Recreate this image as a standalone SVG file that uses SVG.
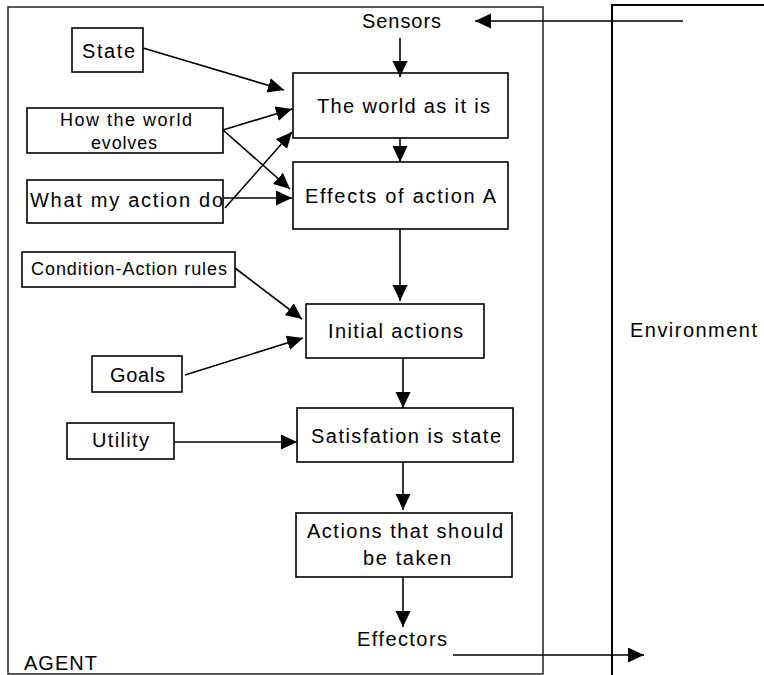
<svg xmlns="http://www.w3.org/2000/svg" width="764" height="675" viewBox="0 0 764 675">
<style>
  .box{fill:#fff;stroke:#000;stroke-width:1.6}
  .frame{fill:none;stroke:#222;stroke-width:1.5}
  .env{fill:none;stroke:#000;stroke-width:2}
  text{font-family:"Liberation Sans",Arial,sans-serif;font-size:20px;fill:#000}
  .sm{font-size:18px}
  .c line{stroke:#000;stroke-width:1.6;marker-end:url(#ah)}
</style>
<defs>
  <marker id="ah" markerUnits="userSpaceOnUse" markerWidth="18" markerHeight="16" refX="16" refY="7.5" orient="auto">
    <path d="M0,0 L16,7.5 L0,15 z" fill="#000"/>
  </marker>
</defs>
<rect width="764" height="675" fill="#fff"/>
<g id="agent">
  <rect class="frame" x="8" y="7" width="535" height="667"/>
  <text x="24" y="670" textLength="73" lengthAdjust="spacing">AGENT</text>
</g>
<g id="environment">
  <path class="env" d="M612,675 V5 H764"/>
  <text x="630" y="337" textLength="127" lengthAdjust="spacing">Environment</text>
</g>
<g id="sensors"><text x="362" y="28" textLength="79" lengthAdjust="spacing">Sensors</text></g>
<g id="effectors"><text x="357" y="646" textLength="90" lengthAdjust="spacing">Effectors</text></g>
<g id="state">
  <rect class="box" x="72" y="28" width="71" height="44"/>
  <text x="82" y="58" textLength="53" lengthAdjust="spacing">State</text>
</g>
<g id="how">
  <rect class="box" x="27" y="108" width="196" height="45"/>
  <text class="sm" x="60" y="126" textLength="132" lengthAdjust="spacing">How the world</text>
  <text class="sm" x="91" y="149" textLength="66" lengthAdjust="spacing">evolves</text>
</g>
<g id="what">
  <rect class="box" x="27" y="180" width="196" height="43"/>
  <text x="30" y="207" textLength="193" lengthAdjust="spacing">What my action do</text>
</g>
<g id="world">
  <rect class="box" x="293" y="73" width="215" height="65"/>
  <text x="317" y="113" textLength="173" lengthAdjust="spacing">The world as it is</text>
</g>
<g id="effects">
  <rect class="box" x="293" y="162" width="215" height="67"/>
  <text x="305" y="203" textLength="191" lengthAdjust="spacing">Effects of action A</text>
</g>
<g id="rules">
  <rect class="box" x="22" y="252" width="213" height="35"/>
  <text class="sm" x="31" y="275" textLength="196" lengthAdjust="spacing">Condition-Action rules</text>
</g>
<g id="initial">
  <rect class="box" x="306" y="304" width="178" height="54"/>
  <text x="328" y="338" textLength="135" lengthAdjust="spacing">Initial actions</text>
</g>
<g id="goals">
  <rect class="box" x="92" y="356" width="90" height="36"/>
  <text x="110" y="382" textLength="55" lengthAdjust="spacing">Goals</text>
</g>
<g id="utility">
  <rect class="box" x="67" y="423" width="107" height="36"/>
  <text x="92" y="447" textLength="57" lengthAdjust="spacing">Utility</text>
</g>
<g id="satisfaction">
  <rect class="box" x="297" y="408" width="216" height="54"/>
  <text x="311" y="443" textLength="190" lengthAdjust="spacing">Satisfation is state</text>
</g>
<g id="actions">
  <rect class="box" x="296" y="513" width="216" height="64"/>
  <text x="307" y="538" textLength="196" lengthAdjust="spacing">Actions that should</text>
  <text x="363" y="565" textLength="88" lengthAdjust="spacing">be taken</text>
</g>
<g id="connectors" class="c">
  <line x1="683" y1="21" x2="475" y2="21"/>
  <line x1="400" y1="38" x2="400" y2="77"/>
  <line x1="400" y1="138" x2="400" y2="162"/>
  <line x1="400" y1="229" x2="400" y2="301"/>
  <line x1="403" y1="358" x2="403" y2="408"/>
  <line x1="403" y1="462" x2="403" y2="510"/>
  <line x1="403" y1="577" x2="403" y2="627"/>
  <line x1="453" y1="655" x2="644" y2="655"/>
  <line x1="143" y1="48" x2="284" y2="90"/>
  <line x1="223" y1="130" x2="292" y2="109"/>
  <line x1="223" y1="130" x2="290" y2="189"/>
  <line x1="225" y1="208" x2="292" y2="132"/>
  <line x1="223" y1="198" x2="292" y2="198"/>
  <line x1="235" y1="268" x2="302" y2="319"/>
  <line x1="185" y1="375" x2="303" y2="338"/>
  <line x1="174" y1="442" x2="297" y2="442"/>
</g>
</svg>
